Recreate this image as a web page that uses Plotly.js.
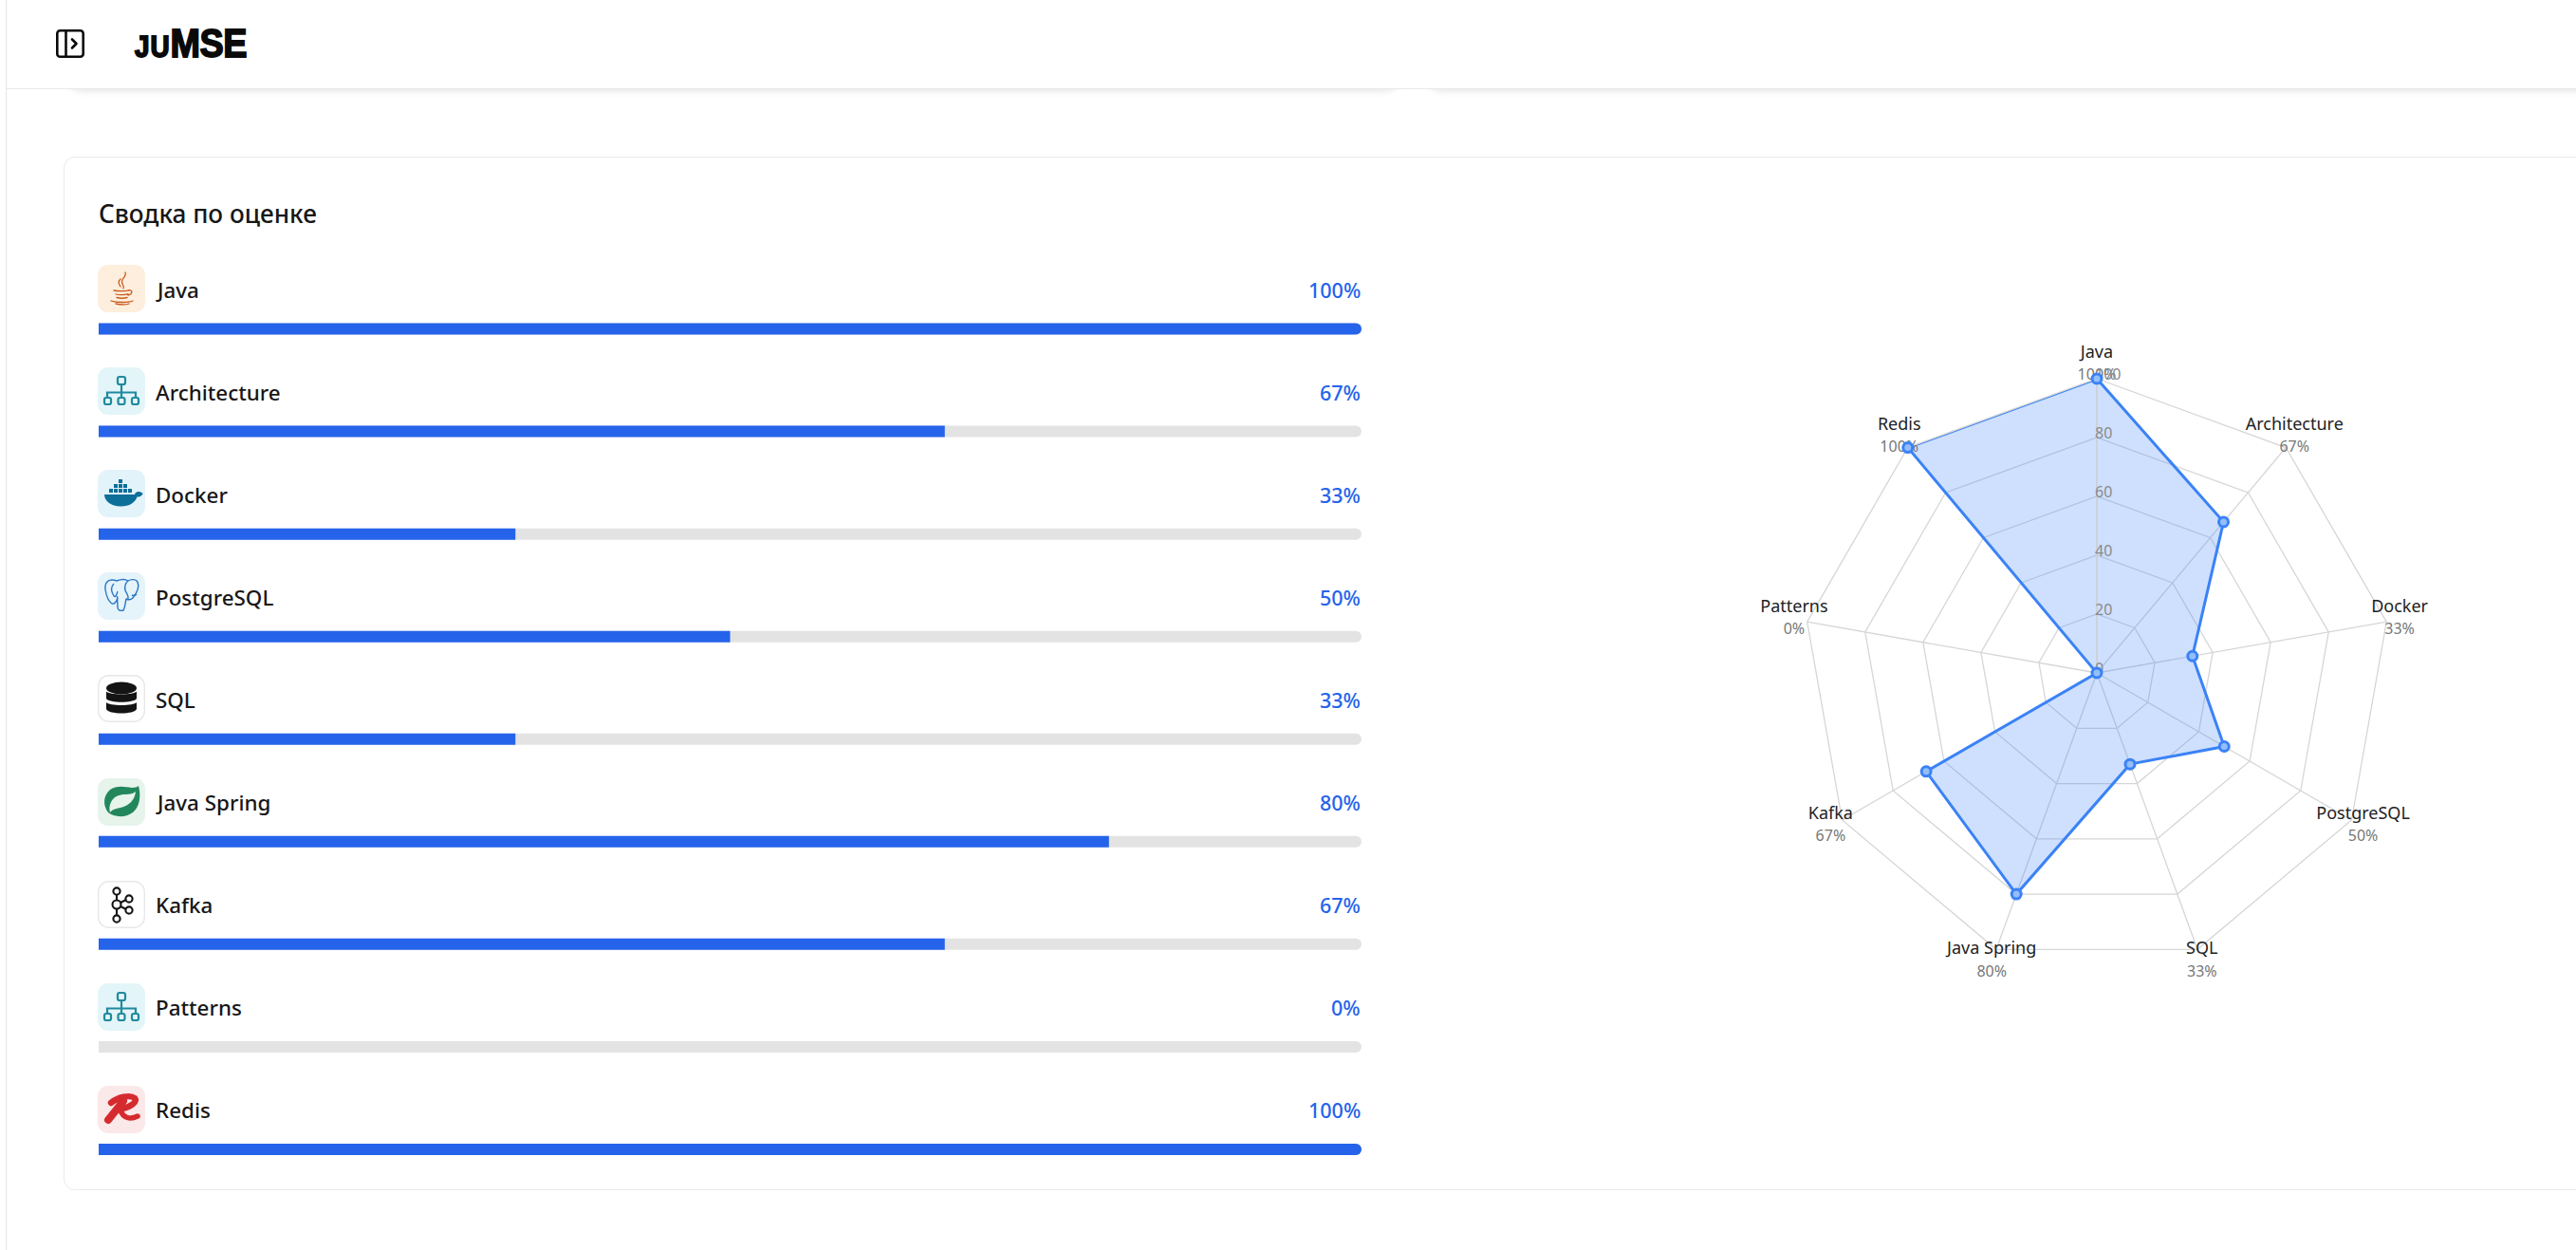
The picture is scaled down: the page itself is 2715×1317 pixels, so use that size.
<!DOCTYPE html>
<html><head><meta charset="utf-8">
<script src="https://cdn.plot.ly/plotly-3.0.1.min.js"></script>
<style>
html,body{margin:0;padding:0;background:#fff;width:2715px;height:1317px;overflow:hidden;font-family:"Noto Sans",sans-serif}
#rail{position:absolute;left:6px;top:0;width:1px;height:1317px;background:#e5e5e5}
#shadowA,#shadowB{position:absolute;top:40px;height:53px;border-radius:0 0 14px 14px;box-shadow:0 2px 8px rgba(0,0,0,.13)}
#shadowA{left:72px;width:1402px}#shadowB{left:1505px;width:1300px}
#head{position:absolute;left:7px;top:0;width:2708px;height:93px;background:#fff;border-bottom:1px solid #e8e8e8}
#logo{position:absolute;left:142px;top:22px;font-family:"Liberation Sans",sans-serif;font-weight:700;color:#0a0a0a;font-size:42px;line-height:48px;letter-spacing:-.5px;-webkit-text-stroke:1.8px #0a0a0a;white-space:nowrap;transform:scaleX(.9);transform-origin:left center}
#logo small{font-size:31px;letter-spacing:1px}
#toggle{position:absolute;left:59px;top:31px}
#card{position:absolute;left:67px;top:165px;width:2800px;height:1087px;border:1.5px solid #ebebeb;border-radius:12px;background:#fff}
#chart{position:absolute;left:0;top:0;width:2715px;height:1317px}
.tile{position:absolute;left:103px;width:50px;height:50px}
</style></head><body>
<div id="rail"></div>
<div id="shadowA"></div><div id="shadowB"></div>
<div id="head"></div>
<svg id="toggle" width="30" height="30" viewBox="0 0 30 30" fill="none" stroke="#0a0a0a" stroke-width="2.6" stroke-linejoin="round"><rect x="1.3" y="1.3" width="27.4" height="27.4" rx="3"/><path d="M10.5 1.3v27.4"/><path d="M17 10.5l4.5 4.5-4.5 4.5" stroke-linecap="round"/></svg>
<div id="logo"><small>JU</small>MSE</div>
<div id="card"></div>
<div id="chart"></div>
<script>
const categories = ["Java","Architecture","Docker","PostgreSQL","SQL","Java Spring","Kafka","Patterns","Redis"];
const scores = [100,67,33,50,33,80,67,0,100];
const trackValues = [100,100,100,100,100,100,100,100,100];
const radialTicks = [0,20,40,60,80,100];
const cardTitle = "Сводка по оценке";

const W=2715,H=1317;
const BLUE="#2563eb", LINE="#3b82f6";
const orgChart=(bg)=>`<rect width="50" height="50" rx="11" fill="${bg}"/><g fill="none" stroke="#1f8a9e" stroke-width="2.2"><rect x="21" y="10" width="8" height="8" rx="2"/><path d="M25 18V32M10 31v-4.500h30V31"/><rect x="7" y="32" width="7" height="7" rx="2"/><rect x="21.500" y="32" width="7" height="7" rx="2"/><rect x="36" y="32" width="7" height="7" rx="2"/></g>`;
const icons=[
`<rect width="50" height="50" rx="11" fill="#fdeedd"/><g fill="none" stroke="#c8591a" stroke-width="1.300" stroke-linecap="round"><path d="M29 8c2 5-6 7-3 12 1 2 2 3 1 5"/><path d="M24 15c-3 3-2 5 0 8"/><path d="M17 27c4 1 13 1 16-.5M19 31c3 1 10 1 13-.3M20 34.500c3 .8 8 .8 11 0M14 38c6 2 18 2 23 0M19 41c5 1 11 1 14 0M33 27c4-1 4 4-1 5"/></g>`,
orgChart("#e3f5f8"),
`<rect width="50" height="50" rx="11" fill="#e3f3fa"/><g fill="#0b6f99"><path d="M7 26h32c1-3 3-3 5-3 1 .5 3 1 3.500 2-1 3-4 3.500-6 3.500-2 6-8 10-17 10-11 0-17.500-6-17.500-12.500z"/><rect x="12" y="20" width="4" height="4"/><rect x="17" y="20" width="4" height="4"/><rect x="22" y="20" width="4" height="4"/><rect x="27" y="20" width="4" height="4"/><rect x="32" y="20" width="4" height="4"/><rect x="17" y="15" width="4" height="4"/><rect x="22" y="15" width="4" height="4"/><rect x="27" y="15" width="4" height="4"/><rect x="22" y="10" width="4" height="4"/></g>`,
`<rect width="50" height="50" rx="11" fill="#e5f3fb"/><g fill="none" stroke="#2a78c4" stroke-width="1.400" stroke-linejoin="round"><path d="M20 9C12 6 7 10 8 18c1 7 4 13 7 15 3 1 5-3 6-6"/><path d="M20 9c5-2 9-2 12 0 3-2 8-2 10 1 2 5-1 12-5 17-2 2-5 2-7 1-1 4-1 9-3 12-3 1-6 0-6-3l-.5-12"/><path d="M17 12c-3 3-3 8 0 13 2 2 3-2 4-5M32 9c-3 2-4 7-3 10 1 3 4 5 3 9M36 24c2 1 4 0 5-1"/></g>`,
`<rect x=".7" y=".7" width="48.600" height="48.600" rx="11" fill="#fff" stroke="#e8e8e8" stroke-width="1.400"/><g fill="#141414"><ellipse cx="25" cy="14" rx="16" ry="6.500"/><path d="M9 17.500c3 4 29 4 32 0v7.500c-3 5-29 5-32 0z"/><path d="M9 29c3 4 29 4 32 0v7c-2 6-30 6-32 0z"/></g>`,
`<rect width="50" height="50" rx="11" fill="#e6f4ec"/><path d="M43 8c3 11 1 22-6 28-8 6-20 5-26 0-6-8-5-18 2-24 7-5 16-3 23-2 3 0 6-1 7-2z" fill="#23875c"/><path d="M40 14c-1 9-7 15-16 17-5 1-9 2-11 5-1-3-1-7 1-11 3-6 9-8 15-8 5 0 9-1 11-3z" fill="#e6f4ec"/>`,
`<rect x=".7" y=".7" width="48.600" height="48.600" rx="11" fill="#fff" stroke="#e8e8e8" stroke-width="1.400"/><g fill="none" stroke="#141414" stroke-width="2.100"><circle cx="20" cy="11" r="3.600"/><circle cx="20" cy="25" r="4.500"/><circle cx="20" cy="40" r="3.600"/><circle cx="33" cy="19" r="3.600"/><circle cx="33" cy="31" r="3.600"/><path d="M20 14.500v6M20 29.500v7M24 23l6-3M24 27l6 3"/></g>`,
orgChart("#e3f5f8"),
`<rect width="50" height="50" rx="11" fill="#fbe8e8"/><g fill="none" stroke="#d52b2f" stroke-linecap="round" stroke-linejoin="round"><path d="M14 18c7-6 20-9 25-5 3 4-4 9-13 11" stroke-width="6.500"/><path d="M27 16L11 36" stroke-width="8"/><path d="M24 26c3 8 10 10 18 6" stroke-width="5.500"/></g>`
];
icons.forEach((s,i)=>{
  const d=document.createElement('div');d.className='tile';d.style.top=(279+108.1*i)+'px';
  d.innerHTML=`<svg width="50" height="50" viewBox="0 0 50 50">${s}</svg>`;
  document.body.appendChild(d);
});

const closed=a=>a.concat([a[0]]);
const radarLabels=categories.map((c,i)=>`<span style="color:#222;font-size:18px">${c}</span><br><span style="color:#777;font-size:16px">${scores[i]}%</span>`);
const RMIN=-0.01;

const traces=[
 {type:'bar',orientation:'h',x:trackValues,y:categories,width:12/108,marker:{color:'#e3e3e3'},hoverinfo:'skip',xaxis:'x',yaxis:'y'},
 {type:'bar',orientation:'h',x:scores,y:categories,width:12/108,marker:{color:BLUE},hoverinfo:'skip',xaxis:'x',yaxis:'y'},
 {type:'scatterpolar',subplot:'polar',r:closed(scores),theta:closed(categories),mode:'lines',fill:'toself',
  fillcolor:'rgba(59,130,246,0.25)',line:{color:LINE,width:3,shape:'linear'},hoverinfo:'skip',cliponaxis:false},
 {type:'scatterpolar',subplot:'polar4',r:scores,theta:categories,mode:'markers',
  marker:{size:10,color:'rgba(147,190,250,1)',line:{color:LINE,width:3}},hoverinfo:'skip',cliponaxis:false},
 {type:'scatterpolar',subplot:'polar3',r:radialTicks,theta:radialTicks.map(()=>categories[0]),mode:'text',text:radialTicks.map(String),textposition:'top right',
  textfont:{family:'Noto Sans',size:16,color:'#8a8a8a'},hoverinfo:'skip',cliponaxis:false},
 {type:'scatterpolar',subplot:'polar2',r:categories.map(()=>100),theta:categories,mode:'text',text:radarLabels,textposition:'middle center',
  textfont:{family:'Noto Sans',size:18,color:'#222'},hoverinfo:'skip',cliponaxis:false}
];
const labelAnn=categories.flatMap((c,i)=>[
 {xref:'x',yref:'y',x:0,y:c,text:c,showarrow:false,xanchor:'left',yanchor:'middle',xshift:58,yshift:41,
  font:{family:'Noto Sans',size:22.4,weight:500,color:'#171717'}},
 {xref:'x',yref:'y',x:100,y:c,text:scores[i]+'%',showarrow:false,xanchor:'right',yanchor:'middle',xshift:1,yshift:41,
  font:{family:'Noto Sans',size:21.5,weight:500,color:BLUE}}
]);
const hiddenAngular=()=>({type:'category',categoryorder:'array',categoryarray:categories,direction:'clockwise',rotation:90,visible:false});
const layout={
 width:W,height:H,margin:{l:0,r:0,t:0,b:0},paper_bgcolor:'rgba(0,0,0,0)',plot_bgcolor:'rgba(0,0,0,0)',showlegend:false,
 barmode:'overlay',barcornerradius:6,font:{family:'Noto Sans'},
 xaxis:{domain:[104/W,1435/W],range:[0,100],visible:false,fixedrange:true},
 yaxis:{domain:[1-1265/H,1-292.5/H],type:'category',categoryorder:'array',categoryarray:categories,range:[8.5,-0.5],visible:false,fixedrange:true},
 annotations:[{xref:'paper',yref:'paper',x:102/W,y:1-224.5/H,text:cardTitle,showarrow:false,xanchor:'left',yanchor:'middle',
   font:{family:'Noto Sans',size:26.2,weight:500,color:'#171717'}}].concat(labelAnn),
 polar:{
  domain:{x:[(2210-310)/W,(2210+310)/W],y:[1-1019/H,1-399/H]},
  bgcolor:'rgba(0,0,0,0)',gridshape:'linear',
  radialaxis:{range:[RMIN,100],angle:90,tickvals:radialTicks,ticks:'',showticklabels:false,
    gridcolor:'#d6d6d6',gridwidth:1.3,linecolor:'#d6d6d6',linewidth:1.3},
  angularaxis:{type:'category',categoryorder:'array',categoryarray:categories,direction:'clockwise',rotation:90,
    showticklabels:false,ticks:'',gridcolor:'#d6d6d6',gridwidth:1.3,linecolor:'#d6d6d6',linewidth:1.3}
 },
 polar2:{
  domain:{x:[(2210-324)/W,(2210+324)/W],y:[1-1032/H,1-384/H]},
  bgcolor:'rgba(0,0,0,0)',
  radialaxis:{range:[0,100],visible:false},
  angularaxis:hiddenAngular()
 },
 polar3:{
  domain:{x:[(2208-310)/W,(2208+310)/W],y:[1-1024/H,1-404/H]},
  bgcolor:'rgba(0,0,0,0)',
  radialaxis:{range:[RMIN,100],visible:false},
  angularaxis:hiddenAngular()
 },
 polar4:{
  domain:{x:[(2210-310)/W,(2210+310)/W],y:[1-1019/H,1-399/H]},
  bgcolor:'rgba(0,0,0,0)',
  radialaxis:{range:[RMIN,100],visible:false},
  angularaxis:hiddenAngular()
 }
};
Plotly.newPlot('chart',traces,layout,{staticPlot:true,displayModeBar:false});
</script></body></html>
